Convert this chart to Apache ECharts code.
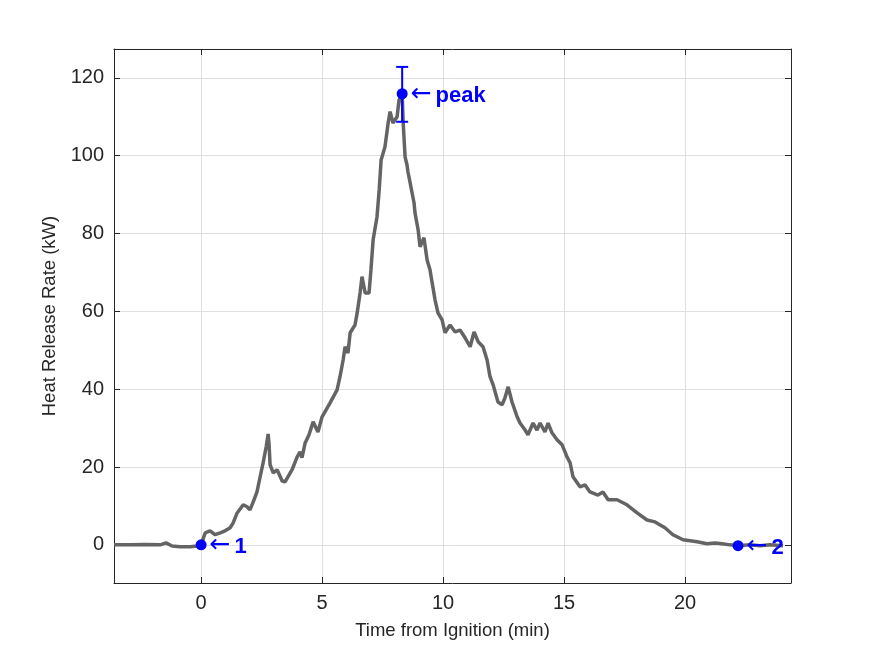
<!DOCTYPE html>
<html>
<head>
<meta charset="utf-8">
<script src="https://cdn.jsdelivr.net/npm/echarts@6/dist/echarts.min.js"></script>
<style>
  html, body { margin: 0; padding: 0; background: #fff; }
  #chart { width: 875px; height: 656px; }
</style>
</head>
<body>
<div id="chart"></div>
<script>
// heat release rate curve
const timeMin = [
  -3.6, -2.93, -2.31, -1.69, -1.45, -1.2, -0.87, -0.45, -0.17, 0,
  0.17, 0.37, 0.58, 0.79, 0.99, 1.2, 1.32, 1.49, 1.74, 1.9,
  2.02, 2.15, 2.31, 2.44, 2.56, 2.69, 2.77, 2.81, 2.85, 2.98,
  3.14, 3.35, 3.47, 3.76, 3.97, 4.09, 4.17, 4.3, 4.46, 4.63,
  4.83, 5.0, 5.33, 5.62, 5.74, 5.87, 5.95, 6.07, 6.16, 6.36,
  6.45, 6.57, 6.65, 6.78, 6.94, 7.02, 7.11, 7.27, 7.36, 7.44,
  7.6, 7.73, 7.81, 7.93, 8.1, 8.18, 8.31, 8.35, 8.43, 8.51,
  8.55, 8.64, 8.72, 8.8, 8.84, 8.97, 9.05, 9.21, 9.34, 9.46,
  9.55, 9.67, 9.79, 9.96, 10.08, 10.29, 10.5, 10.7, 10.91, 11.12,
  11.28, 11.45, 11.65, 11.82, 11.94, 12.07, 12.27, 12.44, 12.56, 12.69,
  12.85, 13.06, 13.18, 13.39, 13.51, 13.72, 13.88, 14.01, 14.21, 14.34,
  14.5, 14.71, 14.92, 15.04, 15.12, 15.25, 15.37, 15.66, 15.87, 16.07,
  16.4, 16.61, 16.82, 17.19, 17.6, 18.02, 18.43, 18.76, 19.17, 19.5,
  19.92, 20.5, 20.91, 21.24, 21.53, 21.86, 22.19, 22.69, 23.1, 23.51,
  24.05
];
const hrrKW = [
  0, 0, 0.1, 0, 0.5, -0.3, -0.5, -0.5, -0.3, 0,
  3.1, 3.6, 2.6, 3.1, 3.6, 4.4, 5.6, 8.2, 10.3, 9.8,
  9.0, 11.0, 13.6, 17.5, 21.0, 25.2, 28.5, 25.7, 20.6, 18.5,
  19.3, 16.4, 16.2, 19.3, 22.6, 23.9, 22.4, 26.2, 28.3, 31.6,
  29.0, 32.9, 36.5, 39.8, 43.2, 47.5, 50.9, 49.3, 54.5, 56.5,
  59.6, 64.7, 68.9, 64.7, 64.7, 70.7, 78.4, 84.3, 91.2, 98.9,
  102.3, 108.4, 111.3, 108.4, 110.0, 114.3, 115.9, 108.7, 99.7, 97.6,
  95.8, 93.0, 90.4, 87.9, 85.3, 80.9, 76.6, 78.9, 73.2, 70.7,
  67.3, 62.9, 59.6, 57.8, 54.5, 56.5, 54.7, 55.2, 53.2, 50.9,
  54.7, 52.2, 50.9, 47.5, 43.2, 41.1, 36.7, 36.0, 37.8, 40.6,
  36.7, 32.9, 31.3, 29.5, 28.3, 31.3, 29.5, 31.3, 29.0, 31.3,
  28.8, 27.0, 25.7, 23.9, 22.6, 21.1, 17.5, 14.9, 15.4, 13.6,
  12.8, 13.6, 11.6, 11.6, 10.3, 8.2, 6.4, 5.9, 4.4, 2.6,
  1.3, 0.8, 0.3, 0.5, 0.3, 0.0, -0.2, 0.0, -0.2, 0.0,
  -0.2
];

// marked points
const markTime = [0, 8.31, 22.19];
const markValue = [0, 115.9, -0.2];
const markName = ['1', 'peak', '2'];

// error bar on the peak
const peakLow = 108.7;
const peakHigh = 122.8;

// tick labels
const xTicks = [0, 5, 10, 15, 20];
const yTicks = [0, 20, 40, 60, 80, 100, 120];

const xMin = -3.6, xMax = 24.38;
const yMin = -9.8, yMax = 127.4;

const font = '"Liberation Sans", Arial, Helvetica, sans-serif';
const ink = '#262626';
const blue = '#0000ff';

let curve = timeMin.map((t, i) => [t, hrrKW[i]]);
let marks = markTime.map((t, i) => ({ name: markName[i], value: [t, markValue[i]] }));

function boxAxis(pos, ticks, min, max, extra) {
  return Object.assign({
    type: 'value',
    position: pos,
    min: min,
    max: max,
    axisLine: { show: true, onZero: false, lineStyle: { color: ink, width: 1 } },
    axisTick: { show: true, inside: true, length: 6, customValues: ticks, lineStyle: { color: ink } },
    axisLabel: { show: false, customValues: ticks },
    splitLine: { show: false }
  }, extra || {});
}

let myChart = echarts.init(document.getElementById('chart'));
let option = {
  animation: false,
  backgroundColor: '#fff',
  textStyle: { fontFamily: font },
  grid: { left: 114, right: 84, top: 49, bottom: 73, containLabel: false },
  xAxis: [
    boxAxis('bottom', xTicks, xMin, xMax, {
      name: 'Time from Ignition (min)',
      nameLocation: 'middle',
      nameGap: 38,
      nameTextStyle: { color: ink, fontSize: 18.5, fontFamily: font },
      axisLabel: { show: true, customValues: xTicks, color: ink, fontSize: 20, margin: 10, fontFamily: font },
      splitLine: { show: true, lineStyle: { color: '#dfdfdf', width: 1 } }
    }),
    boxAxis('top', xTicks, xMin, xMax)
  ],
  yAxis: [
    boxAxis('left', yTicks, yMin, yMax, {
      name: 'Heat Release Rate (kW)',
      nameLocation: 'middle',
      nameGap: 50,
      nameTextStyle: { color: ink, fontSize: 18.5, fontFamily: font },
      axisLabel: { show: true, customValues: yTicks, color: ink, fontSize: 20, margin: 10, fontFamily: font },
      splitLine: { show: true, lineStyle: { color: '#dfdfdf', width: 1 } }
    }),
    boxAxis('right', yTicks, yMin, yMax)
  ],
  series: [
    {
      type: 'line',
      data: curve,
      showSymbol: false,
      lineStyle: { color: '#646464', width: 3.5 },
      z: 2
    },
    {
      // vertical error bar with caps on the peak
      type: 'custom',
      data: [[markTime[1], peakLow, peakHigh]],
      renderItem(params, api) {
        let top = api.coord([api.value(0), api.value(2)]);
        let bot = api.coord([api.value(0), api.value(1)]);
        let half = 6;
        let style = { stroke: blue, lineWidth: 2 };
        return {
          type: 'group',
          children: [
            { type: 'line', shape: { x1: top[0], y1: top[1], x2: bot[0], y2: bot[1] }, style: style },
            { type: 'line', shape: { x1: top[0] - half, y1: top[1], x2: top[0] + half, y2: top[1] }, style: style },
            { type: 'line', shape: { x1: bot[0] - half, y1: bot[1], x2: bot[0] + half, y2: bot[1] }, style: style }
          ]
        };
      },
      z: 3
    },
    {
      type: 'scatter',
      data: marks,
      symbol: 'circle',
      symbolSize: 11,
      itemStyle: { color: blue, opacity: 1 },
      label: {
        show: true,
        position: 'right',
        distance: 3,
        formatter: p => '{a|←}{b|' + p.name + '}',
        rich: {
          a: { color: blue, fontSize: 25, fontFamily: '"DejaVu Sans", sans-serif', fontWeight: 'normal', padding: [2, 0, 0, 0] },
          b: { color: blue, fontSize: 22, fontFamily: font, fontWeight: 'bold', padding: [5, 0, 0, 4] }
        }
      },
      emphasis: { disabled: true },
      z: 4
    }
  ]
};
myChart.setOption(option);
</script>
</body>
</html>
